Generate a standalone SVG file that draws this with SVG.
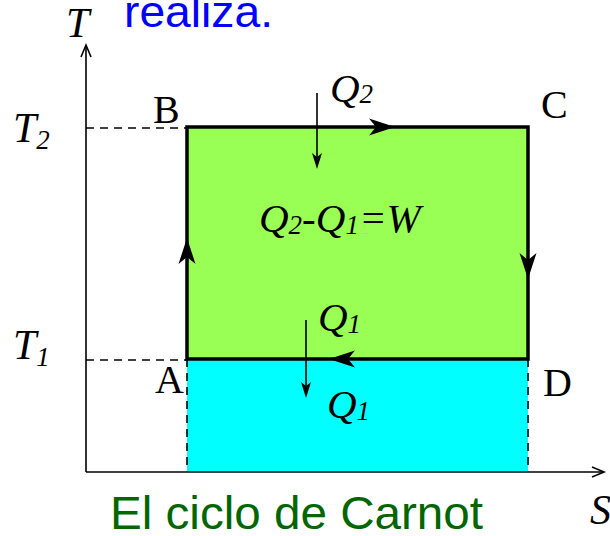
<svg xmlns="http://www.w3.org/2000/svg" width="610" height="536" viewBox="0 0 610 536">
<style>
.ser{font-family:"Liberation Serif","Times New Roman",serif;fill:#000}
.it{font-style:italic}
.axis{stroke:#000;stroke-width:1.6;fill:none}
.dash{stroke:#000;stroke-width:1.6;stroke-dasharray:8,6;fill:none}
.edge{stroke:#000;stroke-width:3.5;fill:none}
.thin{stroke:#000;stroke-width:1.6;fill:none}
</style>
<defs>
<path id="bigHead" d="M0,0 L-26,-8.5 L-19,0 L-26,8.5 Z" fill="#000"/>
<path id="smallHead" d="M0,0 L-16,-5 L-12,0 L-16,5 Z" fill="#000"/>
<path id="openHead" d="M-12,-5 L0,0 L-12,5" fill="none" stroke="#000" stroke-width="1.6"/>
</defs>
<rect width="610" height="536" fill="#fff"/>
<text x="124" y="27" font-family="Liberation Sans, Arial, sans-serif" font-size="45" fill="#0000ff" textLength="149" lengthAdjust="spacingAndGlyphs">realiza.</text>
<g id="areas">
<rect x="187" y="127" width="341" height="232" fill="#99ff55"/>
<rect x="187" y="359" width="341" height="112" fill="#00ffff"/>
</g>
<g id="axes">
<line class="axis" x1="86" y1="472" x2="86" y2="46"/>
<use href="#openHead" transform="translate(86,45) rotate(-90)"/>
<line class="axis" x1="86" y1="472" x2="603" y2="472"/>
<use href="#openHead" transform="translate(604,472)"/>
<text class="ser it" x="66" y="37" font-size="42">T</text>
<text class="ser it" x="590" y="524" font-size="42">S</text>
<text class="ser it" x="13" y="142" font-size="42">T<tspan font-size="27" dy="7">2</tspan></text>
<text class="ser it" x="13" y="359" font-size="42">T<tspan font-size="27" dy="7">1</tspan></text>
</g>
<g id="connectors">
<line class="dash" x1="86" y1="128" x2="187" y2="128"/>
<line class="dash" x1="86" y1="360" x2="187" y2="360"/>
<line class="dash" x1="187" y1="359" x2="187" y2="471"/>
<line class="dash" x1="528" y1="359" x2="528" y2="471"/>
<path class="edge" d="M187,359 L187,127 L528,127 L528,359 Z"/>
<use href="#bigHead" transform="translate(395,127)"/>
<use href="#bigHead" transform="translate(528,279) rotate(90)"/>
<use href="#bigHead" transform="translate(329,359) rotate(180)"/>
<use href="#bigHead" transform="translate(187,238) rotate(-90)"/>
<line class="thin" x1="317" y1="93" x2="317" y2="160"/>
<use href="#smallHead" transform="translate(317,169) rotate(90)"/>
<line class="thin" x1="306" y1="320" x2="306" y2="389"/>
<use href="#smallHead" transform="translate(306,398) rotate(90)"/>
</g>
<g id="B"><text class="ser" x="153" y="123" font-size="40">B</text></g>
<g id="C"><text class="ser" x="541" y="118" font-size="40">C</text></g>
<g id="A"><text class="ser" x="155" y="393" font-size="40">A</text></g>
<g id="D"><text class="ser" x="543" y="396" font-size="40">D</text></g>
<g id="labels">
<text class="ser it" x="330" y="102" font-size="41">Q<tspan font-size="27" dy="1">2</tspan></text>
<text class="ser it" x="259" y="232" font-size="41">Q<tspan font-size="27" dy="2">2</tspan><tspan font-size="41" dy="-2">-Q</tspan><tspan font-size="27" dy="2">1</tspan><tspan font-size="41" dy="-2">=W</tspan></text>
<text class="ser it" x="318" y="331" font-size="41">Q<tspan font-size="27" dy="2">1</tspan></text>
<text class="ser it" x="327" y="418" font-size="41">Q<tspan font-size="27" dy="2">1</tspan></text>
</g>
<text x="110" y="529" font-family="Liberation Sans, Arial, sans-serif" font-size="46" fill="#006600" textLength="373" lengthAdjust="spacingAndGlyphs">El ciclo de Carnot</text>
</svg>
